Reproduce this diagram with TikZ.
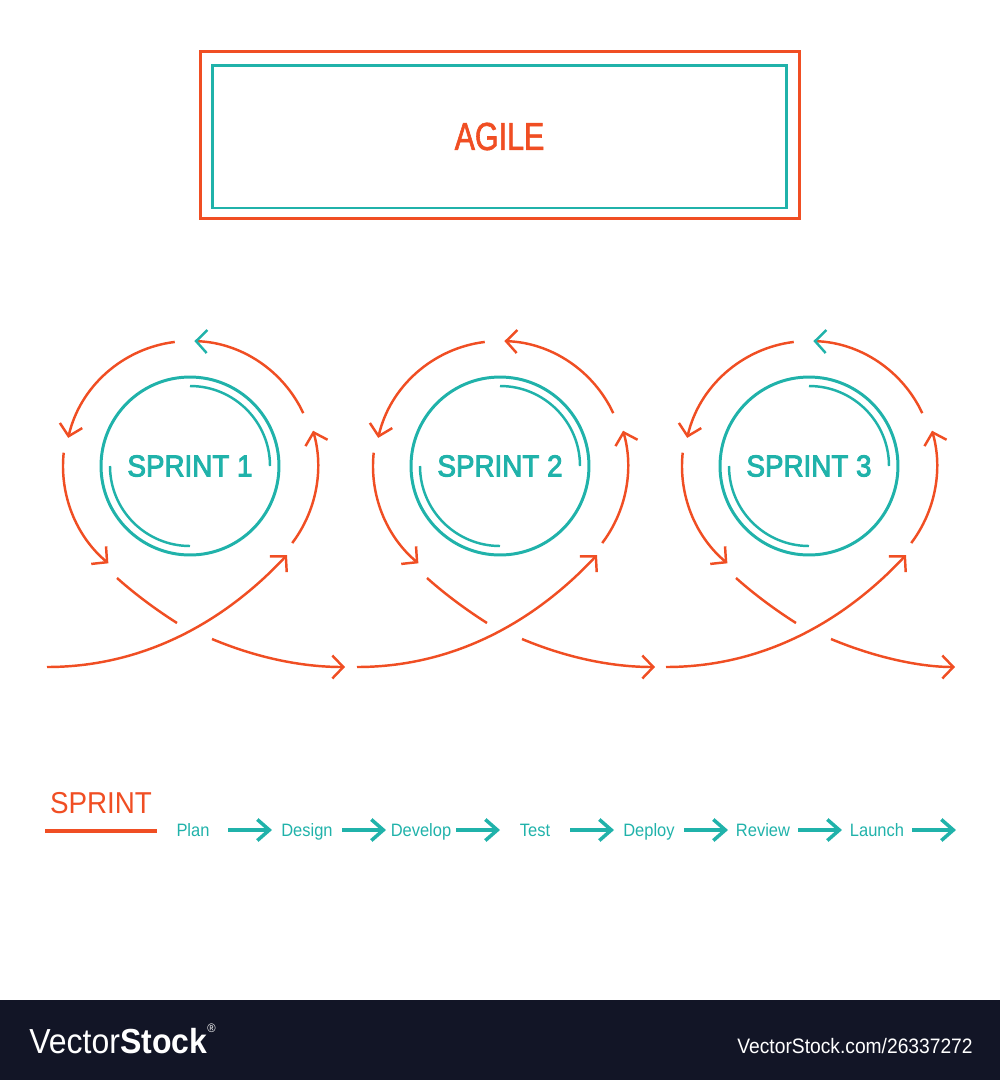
\documentclass[tikz,border=0pt]{standalone}
\usepackage{fontspec}
\setmainfont{Liberation Sans}[FakeStretch=0.92]
\newfontfamily\agilefont{Liberation Sans}[FakeStretch=0.78, FakeBold=1.5]
\newfontfamily\sprintfont{Liberation Sans}[FakeStretch=0.92, FakeBold=3]
\usetikzlibrary{arrows.meta}
\definecolor{agileorange}{RGB}{240,78,35}
\definecolor{agileteal}{RGB}{32,178,170}
\definecolor{footbg}{RGB}{18,21,38}
\tikzset{
    frame/.style={ % the two boxes round the title
        draw, rectangle, inner sep=0pt, line width=1.7pt
    },
    sprint/.style={ % teal circle with the sprint name
        circle, draw=agileteal, line width=1.7pt, minimum size=3.56cm,
        text=agileteal, font=\sprintfont\fontsize{17.2}{20}\selectfont
    },
    innerarc/.style={draw=agileteal, line width=1.4pt},
    flow/.style={ % pieces of the orange loop
        draw=agileorange, line width=1.4pt,
        ->, >={Straight Barb[length=2.2mm,width=4.6mm]}
    },
    stepname/.style={
        anchor=base, inner sep=0pt, text=agileteal,
        font=\fontsize{10.2}{12}\selectfont
    },
    steparrow/.style={
        draw=agileteal, line width=2pt,
        -{Straight Barb[length=2.4mm,width=4.2mm]}
    }
}

\begin{document}
\begin{tikzpicture}[x=0.02cm, y=0.02cm] % one unit is one pixel of the sketch
\useasboundingbox (0,0) rectangle (1000,-1080);

% title
\node[frame, draw=agileorange, minimum width=12cm, minimum height=3.36cm] (outer) at (500,-135) {};
\node[frame, draw=agileteal, minimum width=11.5cm, minimum height=2.86cm,
      text=agileorange, font=\agilefont\fontsize{22.2}{26}\selectfont] (agile) at (499.5,-136.5) {AGILE};

% the three sprints
\foreach \cx/\i/\tc/\ex in {190/1/agileteal/155, 500/2/agileorange/155, 809/3/agileteal/146}{
    \node[sprint] (s\i) at (\cx,-466) {SPRINT \i};
    \begin{scope}[shift={(\cx,-466)}]
        \draw[innerarc] (90:80) arc[start angle=90, end angle=0, radius=80];
        \draw[innerarc] (180:80) arc[start angle=180, end angle=270, radius=80];
        % loop, piece by piece
        \draw[flow] (-143,-201) .. controls (-40,-201) and (40,-150) .. (97,-89);
        \draw[flow] (-37:128) arc[start angle=-37, end angle=16, radius=128];
        \draw[flow, -{Straight Barb[length=2.2mm,width=4.6mm,color=\tc]}]
            (25:125) arc[start angle=25, end angle=88, radius=125];
        \draw[flow] (97:125) arc[start angle=97, end angle=167, radius=125];
        \draw[flow] (174:127) arc[start angle=174, end angle=230, radius=127];
        \draw[flow, -] (-73,-112) .. controls (-55,-128) and (-35,-143) .. (-13,-157);
        \draw[flow] (22,-173) .. controls (65,-191) and (110,-201) .. (\ex,-201);
    \end{scope}
}

% key
\node[anchor=base, inner sep=0pt, text=agileorange, font=\fontsize{17.2}{20}\selectfont] (key) at (101,-813) {SPRINT};
\coordinate (kl) at (45,-831);
\coordinate (kr) at (157,-831);
\draw[agileorange, line width=2pt] (kl) -- (kr);

\foreach \name [count=\k from 0] in {Plan,Design,Develop,Test,Deploy,Review,Launch}{
    \node[stepname] (st\k) at (193+114*\k,-836) {\name};
    \coordinate (a\k) at (228+114*\k,-830);
    \coordinate (b\k) at (272+114*\k,-830);
    \draw[steparrow] (a\k) -- (b\k);
}

% footer band
\fill[footbg] (0,-1000) rectangle (1000,-1080);
\node[anchor=base west, inner sep=0pt, text=white, font=\fontsize{19.8}{22}\selectfont] (vsl) at (29,-1053)
    {Vector\textbf{Stock}\raisebox{1.1ex}{\fontsize{7}{8}\selectfont ®}};
\node[anchor=base east, inner sep=0pt, text=white, font=\fontsize{11.9}{14}\selectfont] (vsr) at (973,-1053)
    {VectorStock.com/26337272};
\end{tikzpicture}
\end{document}
